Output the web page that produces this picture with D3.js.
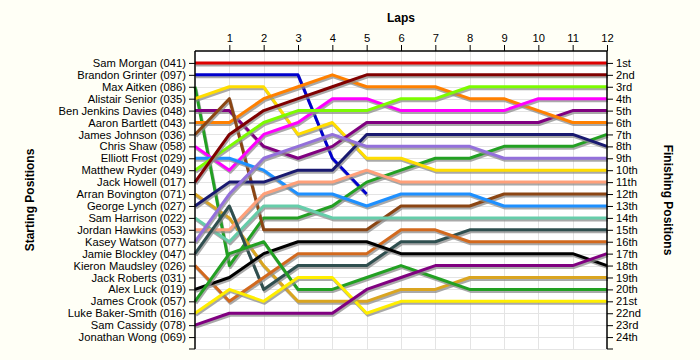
<!DOCTYPE html>
<html>
<head>
<meta charset="utf-8">
<script src="https://cdn.jsdelivr.net/npm/d3@7"></script>
<style>
  html, body { margin: 0; padding: 0; background: #fffff6; }
  svg { display: block; font-family: "Liberation Sans", Arial, sans-serif; }
</style>
</head>
<body>
<svg id="chart" width="700" height="360"></svg>
<script>
// ---- Data ----
const lapTicks = [1, 2, 3, 4, 5, 6, 7, 8, 9, 10, 11, 12];
const drivers = [
  "Sam Morgan (041)", "Brandon Grinter (097)", "Max Aitken (086)", "Alistair Senior (035)",
  "Ben Jenkins Davies (048)", "Aaron Bartlett (043)", "James Johnson (036)", "Chris Shaw (058)",
  "Elliott Frost (029)", "Matthew Ryder (049)", "Jack Howell (017)", "Arran Bovington (071)",
  "George Lynch (027)", "Sam Harrison (022)", "Jordan Hawkins (053)", "Kasey Watson (077)",
  "Jamie Blockley (047)", "Kieron Maudsley (026)", "Jack Roberts (031)", "Alex Luck (019)",
  "James Crook (057)", "Luke Baker-Smith (016)", "Sam Cassidy (078)", "Jonathan Wong (069)"
];
const finishLabels = ["1st","2nd","3rd","4th","5th","6th","7th","8th","9th","10th","11th","12th",
  "13th","14th","15th","16th","17th","18th","19th","20th","21st","22nd","23rd","24th"];
const driverColors = [
  "#dd0000", "#0000cd", "#22a022", "#ffdd00", "#800080", "#ff8000", "#8b4513", "#ff00ff",
  "#1e90ff", "#7cfc00", "#800000", "#daa520", "#191970", "#66cdaa", "#ffa07a", "#9370db",
  "#2f4f4f", "#d2691e", null, "#000000", "#22a022", "#ffee00", "#800080", null
];
// position after each lap (index 0 = start), one list per driver
const lapPositions = [
  [1,1,1,1,1,1,1,1,1,1,1,1,1],
  [2,2,2,2,9,12],
  [3,18,14,14,13,11,10,9,9,8,8,8,7],
  [4,3,3,7,6,9,9,10,10,10,10,10,10],
  [5,5,8,9,8,6,6,6,6,6,6,5,5],
  [6,6,4,3,2,3,3,3,4,4,5,6,6],
  [7,4,15,15,15,15,13,13,13,12,12,12,12],
  [8,10,7,6,4,4,5,5,5,5,4,4,4],
  [9,9,10,12,12,13,12,12,12,13,13,13,13],
  [10,8,6,5,5,5,4,4,3,3,3,3,3],
  [11,7,5,4,3,2,2,2,2,2,2,2,2],
  [12,14,18,21,21,21,20,20,19,19,19,19,19],
  [13,11,11,10,10,7,7,7,7,7,7,7,8],
  [14,16,13,13,14,14,14,14,14,14,14,14,14],
  [15,15,12,11,11,10,11,11,11,11,11,11,11],
  [16,12,9,8,7,8,8,8,8,9,9,9,9],
  [17,13,20,18,18,18,16,16,15,15,15,15,15],
  [18,21,19,17,17,17,15,15,16,16,16,16,16],
  [],
  [20,19,17,16,16,16,17,17,17,17,17,17,18],
  [21,17,16,20,20,19,18,19,20,20,20,20,20],
  [22,20,21,19,19,22,21,21,21,21,21,21,21],
  [23,22,22,22,22,20,19,18,18,18,18,18,17],
  []
];

// ---- Layout ----
const svg = d3.select("#chart");
const x = d3.scaleLinear().domain([0, 12]).range([195, 607]);
const y = d3.scaleLinear().domain([0, 25]).range([51, 349]);
const posTicks = d3.range(1, 25);

// plot background
svg.append("rect").attr("x", x(0)).attr("y", y(0))
  .attr("width", x(12) - x(0)).attr("height", y(25) - y(0)).attr("fill", "#ffffff");

// grid
const grid = svg.append("g").attr("stroke", "#e4e4e4").attr("stroke-width", 1);
grid.selectAll("line.h").data(d3.range(1, 26)).join("line")
  .attr("x1", x(0)).attr("x2", x(12))
  .attr("y1", d => Math.round(y(d)) + 0.5).attr("y2", d => Math.round(y(d)) + 0.5);
grid.selectAll("line.v").data(lapTicks.slice(0, 11)).join("line")
  .attr("y1", y(0)).attr("y2", y(25))
  .attr("x1", d => Math.round(x(d)) + 0.5).attr("x2", d => Math.round(x(d)) + 0.5);

// lines
const line = d3.line().x((d, i) => x(i)).y(d => y(d));
const linesG = svg.append("g").attr("fill", "none").attr("stroke-linejoin", "round");
lapPositions.forEach((pos, i) => {
  if (!pos.length || !driverColors[i]) return;
  linesG.append("path").attr("d", line(pos))
    .attr("stroke", "#8c8c8c").attr("stroke-opacity", 0.75).attr("stroke-width", 3)
    .attr("transform", "translate(1,2)");
  linesG.append("path").attr("d", line(pos))
    .attr("stroke", driverColors[i]).attr("stroke-width", 3);
});

// axes
const fontSize = "11.2px";
const leftAxis = d3.axisLeft(y).tickValues(posTicks).tickSize(6).tickPadding(3)
  .tickFormat(d => drivers[d - 1]);
const gL = svg.append("g").attr("transform", `translate(${x(0)},0)`).call(leftAxis);
gL.select(".domain").attr("d", `M0,${y(0)}V${y(25)}`);
gL.append("line").attr("x1", -6).attr("x2", 0).attr("y1", y(25)).attr("y2", y(25)).attr("stroke", "#000");

const rightAxis = d3.axisRight(y).tickValues(posTicks).tickSize(6).tickPadding(3)
  .tickFormat(d => finishLabels[d - 1]);
const gR = svg.append("g").attr("transform", `translate(${x(12)},0)`).call(rightAxis);
gR.select(".domain").attr("d", `M0,${y(0)}V${y(25)}`);
gR.append("line").attr("x1", 0).attr("x2", 6).attr("y1", y(25)).attr("y2", y(25)).attr("stroke", "#000");

const topAxis = d3.axisTop(x).tickValues(lapTicks).tickSize(6).tickPadding(3).tickFormat(d3.format("d"));
const gT = svg.append("g").attr("transform", `translate(0,${y(0)})`).call(topAxis);
gT.select(".domain").attr("d", `M${x(0)},0H${x(12)}`);

[gL, gR, gT].forEach(g => {
  g.selectAll("text").attr("font-size", fontSize).attr("font-family", "Liberation Sans, Arial, sans-serif").attr("fill", "#000");
  g.selectAll("line").attr("stroke", "#000");
  g.select(".domain").attr("stroke", "#000").attr("stroke-width", 1.5);
});

// titles
svg.append("text").attr("x", 401).attr("y", 22).attr("text-anchor", "middle")
  .attr("font-size", "12px").attr("font-weight", "bold").text("Laps");
svg.append("text").attr("transform", "translate(34,200) rotate(-90)").attr("text-anchor", "middle")
  .attr("font-size", "12px").attr("font-weight", "bold").text("Starting Positions");
svg.append("text").attr("transform", "translate(664,200) rotate(90)").attr("text-anchor", "middle")
  .attr("font-size", "12px").attr("font-weight", "bold").text("Finishing Positions");
</script>
</body>
</html>
